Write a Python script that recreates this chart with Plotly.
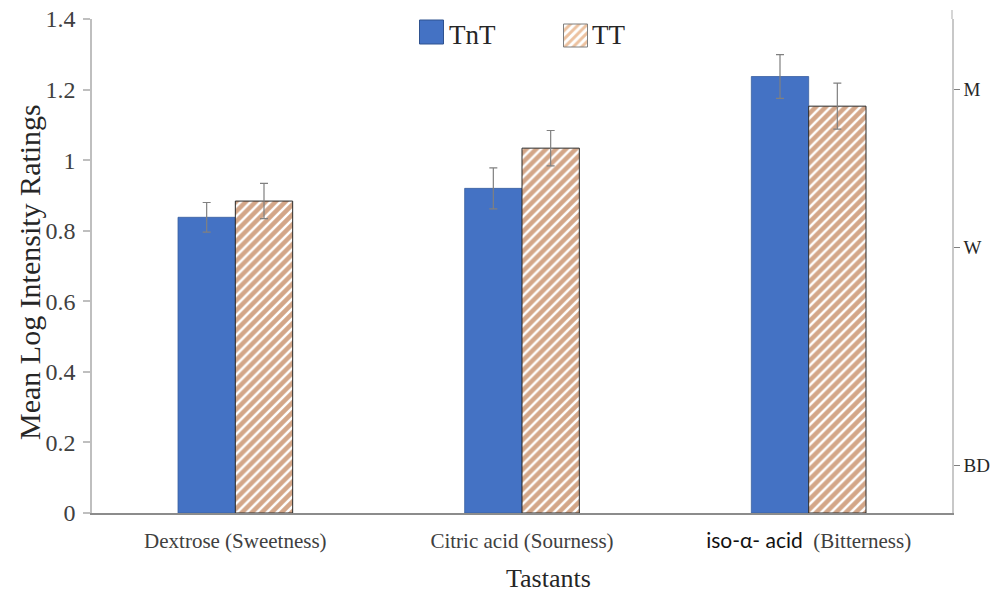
import plotly.graph_objects as go

# Tastant categories and group means with standard errors
categories = ["Dextrose (Sweetness)", "Citric acid (Sourness)", "iso-α- acid (Bitterness)"]
tick_labels = [
    "Dextrose (Sweetness)",
    "Citric acid (Sourness)",
    "<span style='font-family:Lato, Open Sans, sans-serif;fill:#111111'>iso-α- acid</span>&nbsp;&nbsp;(Bitterness)",
]
tnt_means = [0.838, 0.920, 1.237]
tnt_err = [0.042, 0.058, 0.062]
tt_means = [0.884, 1.034, 1.153]
tt_err = [0.050, 0.050, 0.065]

# gLMS descriptor positions on the right-hand axis
glms_labels = ["BD", "W", "M"]
glms_values = [0.136, 0.753, 1.200]

SERIF = "Liberation Serif, Times New Roman, serif"
BLUE = "#4472C4"
HATCH = "#A84E12"
ERR = "#808080"
TEXT = "#262626"

W, H = 1001, 592
ML, MR, MT, MB = 92, 49, 19, 79
PW, PH = W - ML - MR, H - MT - MB

fig = go.Figure()

fig.add_trace(go.Bar(
    name="TnT", x=categories, y=tnt_means,
    marker=dict(color=BLUE, line=dict(color="#3A5F9F", width=0.8)),
    error_y=dict(type="data", array=tnt_err, color=ERR, thickness=1.2, width=4),
    showlegend=False,
))
fig.add_trace(go.Bar(
    name="TT", x=categories, y=tt_means,
    marker=dict(color="white", line=dict(color="#2a2a2a", width=1),
                pattern=dict(shape="/", fgcolor=HATCH, bgcolor="white", size=7, solidity=0.65)),
    error_y=dict(type="data", array=tt_err, color=ERR, thickness=1.2, width=4),
    showlegend=False,
))

# Invisible trace to activate the right-hand descriptor axis
fig.add_trace(go.Scatter(x=[categories[0]], y=[0], yaxis="y2", mode="markers",
                         marker=dict(opacity=0), showlegend=False, hoverinfo="skip"))

# Legend swatches drawn on an overlay axis measured in canvas pixels
legend_x = [431.5, 575.5]
legend_w = [24, 24]
legend_base = [20, 24]
legend_h = [24, 23]
fig.add_trace(go.Bar(
    x=[legend_x[0]], y=[legend_h[0]], base=[legend_base[0]], width=[legend_w[0]],
    xaxis="x3", yaxis="y3", showlegend=False, hoverinfo="skip",
    marker=dict(color=BLUE, line=dict(color="#2F528F", width=1)),
))
fig.add_trace(go.Bar(
    x=[legend_x[1]], y=[legend_h[1]], base=[legend_base[1]], width=[legend_w[1]],
    xaxis="x3", yaxis="y3", showlegend=False, hoverinfo="skip",
    marker=dict(color="white", line=dict(color="#7f7f7f", width=1),
                pattern=dict(shape="/", fgcolor="#D9843F", bgcolor="white", size=6, solidity=0.5)),
))

fig.update_layout(
    width=W, height=H,
    margin=dict(l=ML, r=MR, t=MT, b=MB, autoexpand=False),
    paper_bgcolor="white", plot_bgcolor="white",
    barmode="group", bargap=0.6, bargroupgap=0,
    font=dict(family=SERIF, color=TEXT),
    xaxis=dict(
        type="category", categoryorder="array", categoryarray=categories,
        tickvals=categories, ticktext=tick_labels,
        tickfont=dict(family=SERIF, size=21, color="#404040"),
        showline=True, linecolor="#8c8c8c", linewidth=1.5,
        ticks="", showgrid=False, zeroline=False, automargin=False,
        ticklabelstandoff=8,
    ),
    yaxis=dict(
        range=[0, 1.4], tickvals=[0, 0.2, 0.4, 0.6, 0.8, 1.0, 1.2, 1.4],
        ticktext=["0", "0.2", "0.4", "0.6", "0.8", "1", "1.2", "1.4"],
        tickfont=dict(family=SERIF, size=24, color="#404040"),
        showline=True, linecolor="#bfbfbf", linewidth=1.5,
        ticks="outside", ticklen=7, tickcolor="#bfbfbf", tickwidth=1.5,
        showgrid=False, zeroline=False, ticklabelstandoff=3, automargin=False,
    ),
    yaxis2=dict(
        overlaying="y", side="right", range=[0, 1.4],
        tickvals=glms_values, ticktext=glms_labels,
        tickfont=dict(family=SERIF, size=19, color=TEXT),
        showline=True, linecolor="#c8c8c8", linewidth=1.5,
        ticks="outside", ticklen=6, tickcolor="#808080", tickwidth=1,
        showgrid=False, zeroline=False, ticklabelstandoff=0, automargin=False,
    ),
    xaxis3=dict(domain=[0, 1], range=[ML, ML + PW], anchor="y3", overlaying="x",
                visible=False, fixedrange=True),
    yaxis3=dict(domain=[0, 1], range=[MT + PH, MT], anchor="x3", overlaying="y",
                visible=False, fixedrange=True),
)

# Axis titles
fig.add_annotation(text="Mean Log Intensity Ratings", textangle=-90, showarrow=False,
                   xref="paper", yref="paper", x=(29 - ML) / PW, y=(MT + PH - 272) / PH,
                   xanchor="center", yanchor="middle",
                   font=dict(family=SERIF, size=30, color=TEXT))
fig.add_annotation(text="Tastants", showarrow=False,
                   xref="paper", yref="paper", x=(548 - ML) / PW, y=(MT + PH - 578) / PH,
                   xanchor="center", yanchor="middle", borderpad=0,
                   font=dict(family=SERIF, size=26, color=TEXT))

# Legend labels
legend_text_x = [447, 590]
for tx, label in zip(legend_text_x, ["TnT", "TT"]):
    fig.add_annotation(x=tx, y=35, xref="x3", yref="y3", text=label, showarrow=False,
                       xanchor="left", yanchor="middle",
                       font=dict(family=SERIF, size=27, color=TEXT))

# Extend the right axis line to the top of the canvas
fig.add_shape(type="line", xref="paper", yref="paper", x0=1, x1=1, y0=1, y1=1 + 9 / PH,
              line=dict(color="#c8c8c8", width=1.5))

fig.write_html("out.html")
